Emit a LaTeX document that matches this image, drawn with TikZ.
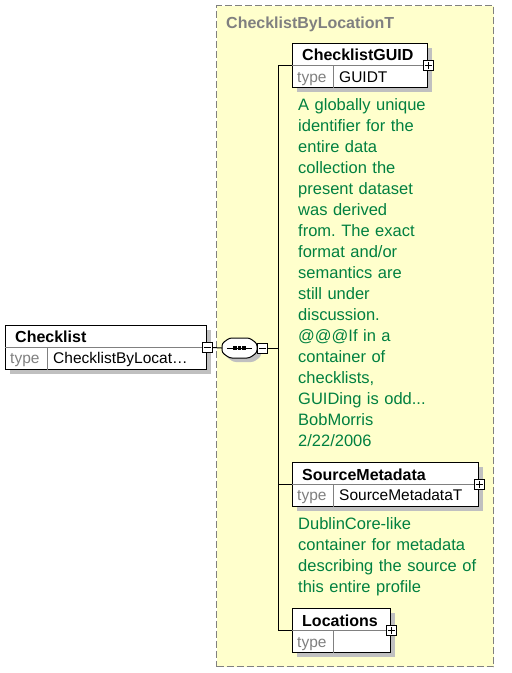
\documentclass[tikz,border=0pt]{standalone}
\usepackage{fontspec}
\setmainfont{Liberation Sans}
\usetikzlibrary{shadows}
\definecolor{docgreen}{RGB}{0,128,64}
\definecolor{typegrey}{RGB}{128,128,128}
\definecolor{paleyellow}{RGB}{255,255,204}
\definecolor{shadowgrey}{RGB}{192,192,192}
\newcommand{\namefont}{\fontsize{16}{20}\selectfont\bfseries}
\newcommand{\typefont}{\fontsize{15.5}{20}\selectfont}
\newcommand{\docfont}{\fontsize{16.5}{21}\selectfont\frenchspacing}
\newcommand{\seqoutline}{(-17.5,-4.5) -- (-10,-10) -- (10,-10) -- (17.5,-4.5) -- (17.5,4.5) -- (10,10) -- (-10,10) -- (-17.5,4.5) -- cycle}

\tikzset{
    boxshadow/.style={drop shadow={shadow xshift=4pt, shadow yshift=-4pt, fill=shadowgrey, opacity=1}},
    elem/.style={draw, line width=1pt, fill=white, anchor=north west, inner sep=0pt, minimum height=44pt, boxshadow},
    nametext/.style={anchor=base west, inner sep=0pt, font=\namefont},
    typetext/.style={anchor=base west, inner sep=0pt, font=\typefont},
    doctext/.style={anchor=base west, inner sep=0pt, text width=195pt, align=left, font=\docfont, text=docgreen},
    pmbox/.style={draw, line width=0.8pt, fill=white, minimum size=10pt, inner sep=0pt},
    plusbox/.style={pmbox, path picture={
        \draw[line width=0.8pt] ([xshift=1.5pt]path picture bounding box.west) -- ([xshift=-1.5pt]path picture bounding box.east);
        \draw[line width=0.8pt] ([yshift=-1.5pt]path picture bounding box.north) -- ([yshift=1.5pt]path picture bounding box.south);}},
    minusbox/.style={pmbox, path picture={
        \draw[line width=0.8pt] ([xshift=1.5pt]path picture bounding box.west) -- ([xshift=-1.5pt]path picture bounding box.east);}},
    wire/.style={line width=1pt},
}

\begin{document}
\begin{tikzpicture}[x=1pt, y=-1pt]
    \useasboundingbox (0,0) rectangle (512,673);

    % Complex type container
    \node[draw=typegrey, line width=1pt, dash pattern=on 7pt off 3pt, fill=paleyellow, anchor=north west,
          minimum width=277pt, minimum height=661pt, inner sep=0pt] (cbl) at (216,5) {};
    \node[anchor=base west, inner sep=0pt, font=\namefont, text=typegrey] (cbl-title) at (226,28) {ChecklistByLocationT};

    % Element boxes
    \node[elem, minimum width=201pt] (checklist) at (5,325) {};
    \node[elem, minimum width=135pt] (guid) at (292,43) {};
    \node[elem, minimum width=186pt] (srcmeta) at (292,462) {};
    \node[elem, minimum width=98pt] (locations) at (292,608) {};

    % Type rows
    \foreach \b/\d in {checklist/42, guid/41, srcmeta/41, locations/41} {
        \draw[typegrey] (\b.west) -- (\b.east);
        \draw[typegrey] ([xshift=\d pt]\b.west) -- ([xshift=\d pt]\b.south west);
    }

    % Texts in the boxes
    \node[nametext] (checklist-name) at (15,342) {Checklist};
    \node[typetext, text=typegrey] (checklist-type) at (10,363) {type};
    \node[typetext] (checklist-val) at (53,363) {ChecklistByLocat…};

    \node[nametext] (guid-name) at (302,60) {ChecklistGUID};
    \node[typetext, text=typegrey] (guid-type) at (297,82) {type};
    \node[typetext] (guid-val) at (339,82) {GUIDT};

    \node[nametext] (srcmeta-name) at (302,480) {SourceMetadata};
    \node[typetext, text=typegrey] (srcmeta-type) at (297,500) {type};
    \node[typetext] (srcmeta-val) at (339,500) {SourceMetadataT};

    \node[nametext] (locations-name) at (302,626) {Locations};
    \node[typetext, text=typegrey] (locations-type) at (297,647) {type};

    % Documentation
    \node[doctext] (guid-doc) at (298,110) {A globally unique\\identifier for the\\entire data\\collection the\\present dataset\\was derived\\from. The exact\\format and/or\\semantics are\\still under\\discussion.\\@@@If in a\\container of\\checklists,\\GUIDing is odd...\\BobMorris\\2/22/2006};
    \node[doctext] (srcmeta-doc) at (298,529) {DublinCore-like\\container for metadata\\describing the source of\\this entire profile};

    % Sequence compositor
    \node[minimum width=35pt, minimum height=20pt, inner sep=0pt] (seq) at (239.5,348) {};
    \begin{scope}[shift={(seq.center)}]
        \fill[shadowgrey, rounded corners=2.5pt, shift={(4,4)}] \seqoutline;
        \draw[wire, fill=white, rounded corners=2.5pt] \seqoutline;
    \end{scope}
    \draw[wire] ([xshift=5pt]seq.west) -- ([xshift=-5pt]seq.east);
    \foreach \dx in {-4.5,0,4.5} {
        \fill ([xshift=\dx pt]seq.center) +(-1.6,-1.6) rectangle +(1.6,1.6);
    }

    % Expand boxes
    \node[minusbox] (checklist-pm) at (checklist.east) {};
    \node[minusbox, anchor=west] (seq-pm) at (seq.east) {};
    \node[plusbox] (guid-pm) at (guid.east) {};
    \node[plusbox] (srcmeta-pm) at (srcmeta.east) {};
    \node[plusbox] (locations-pm) at (locations.east) {};

    % Connectors
    \coordinate (fork) at (278,348);
    \draw[wire] (checklist-pm.east) -- (seq.west);
    \draw[wire] (seq-pm.east) -- (fork);
    \draw[wire] (guid.west) -- (guid.west -| fork) -- (locations.west -| fork) -- (locations.west);
    \draw[wire] (srcmeta.west -| fork) -- (srcmeta.west);

\end{tikzpicture}
\end{document}
